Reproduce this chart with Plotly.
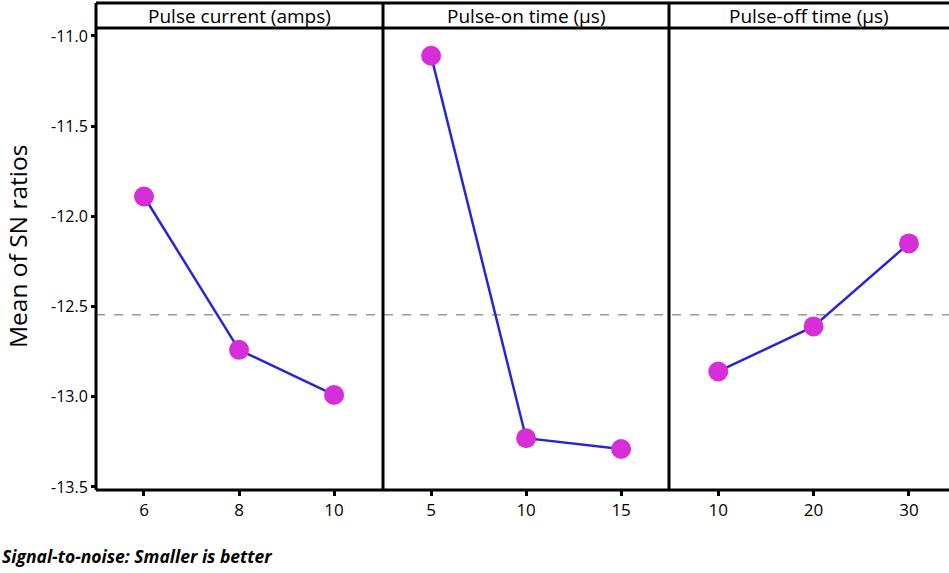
import plotly.graph_objects as go
from plotly.subplots import make_subplots

# Data
factors = ["Pulse current (amps)", "Pulse-on time (µs)", "Pulse-off time (µs)"]
levels_current = [6, 8, 10]
sn_current = [-11.89, -12.74, -12.99]
levels_on = [5, 10, 15]
sn_on = [-11.11, -13.23, -13.29]
levels_off = [10, 20, 30]
sn_off = [-12.86, -12.61, -12.15]
overall_mean = -12.545
y_ticks = [-11.0, -11.5, -12.0, -12.5, -13.0, -13.5]

levels = [levels_current, levels_on, levels_off]
values = [sn_current, sn_on, sn_off]
x_ranges = [[4.99, 11.03], [2.47, 17.52], [4.84, 34.2]]

W, H = 949, 573
ml, mr, mt, mb = 96, 0, 28, 83
pw = W - ml - mr
ph = H - mt - mb
d1 = 287 / pw
d2 = 573 / pw
domains = [[0, d1], [d1, d2], [d2, 1]]
hdr = 25 / ph

FONT = "Open Sans"
LINE_C = "#2626d8"
MARK_C = "#d62fd8"

fig = make_subplots(rows=1, cols=3, shared_yaxes=True, horizontal_spacing=0)

for i in range(3):
    fig.add_trace(go.Scatter(
        x=levels[i], y=values[i], mode="lines+markers",
        line=dict(color=LINE_C, width=2.5),
        marker=dict(color=MARK_C, size=20),
        showlegend=False, hoverinfo="x+y"), row=1, col=i + 1)

for i in range(3):
    ax = "xaxis" if i == 0 else f"xaxis{i+1}"
    fig.layout[ax].update(
        domain=domains[i], range=x_ranges[i], tickmode="array", tickvals=levels[i],
        ticks="outside", ticklen=5, tickwidth=3, tickcolor="black",
        showgrid=False, zeroline=False, showline=False,
        tickfont=dict(family=FONT, size=17, color="black"))
    ay = "yaxis" if i == 0 else f"yaxis{i+1}"
    fig.layout[ay].update(
        range=[-13.517, -10.956], showgrid=False, zeroline=False, showline=False)

fig.layout.yaxis.update(
    tickmode="array", tickvals=y_ticks, ticktext=[f"{v:.1f}" for v in y_ticks],
    ticks="outside", ticklen=4, tickwidth=3, tickcolor="black",
    tickfont=dict(family=FONT, size=16, color="black"))

# y-axis title
fig.add_annotation(xref="paper", yref="paper", x=(17 - ml) / pw, y=(490 - 247) / ph,
                   text="Mean of SN ratios", textangle=-90, showarrow=False,
                   xanchor="center", yanchor="middle",
                   font=dict(family=FONT, size=24.5, color="black"))

# mean line
fig.add_shape(type="line", xref="paper", yref="y", x0=0, x1=1, y0=overall_mean, y1=overall_mean,
              line=dict(color="#9a9a9a", width=1.5, dash="dash"), layer="below")

lw = 3
def pline(x0, y0, x1, y1):
    fig.add_shape(type="line", xref="paper", yref="paper", x0=x0, y0=y0, x1=x1, y1=y1,
                  line=dict(color="black", width=lw))

pline(0, 0, 1, 0)
pline(0, 1, 1, 1)
pline(0, 1 + hdr, 1, 1 + hdr)
for xv in [0, d1, d2]:
    pline(xv, 0, xv, 1 + hdr)

for i in range(3):
    fig.add_annotation(xref="paper", yref="paper", x=(domains[i][0] + domains[i][1]) / 2,
                       y=1 + hdr / 2, text=factors[i], showarrow=False,
                       xanchor="center", yanchor="middle",
                       font=dict(family=FONT, size=19, color="black"))

fig.add_annotation(xref="paper", yref="paper", x=-ml / pw, y=-(556 - (H - mb)) / ph,
                   xanchor="left", yanchor="middle", showarrow=False,
                   text="<b><i>Signal-to-noise: Smaller is better</i></b>",
                   font=dict(family=FONT, size=17.5, color="black"))

fig.update_layout(width=W, height=H, margin=dict(l=ml, r=mr, t=mt, b=mb),
                  plot_bgcolor="white", paper_bgcolor="white")

fig.write_html("out.html")
